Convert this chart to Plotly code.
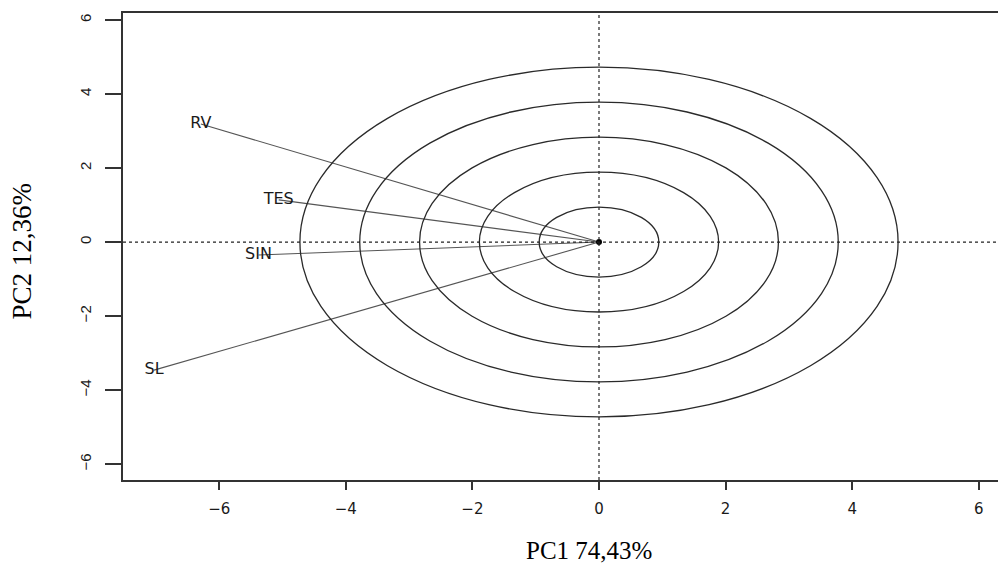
import plotly.graph_objects as go

# Data
var_names = ["RV", "TES", "SIN", "SL"]
pc1 = [-6.29, -5.06, -5.38, -7.03]
pc2 = [3.19, 1.14, -0.35, -3.46]
circle_radii = [0.945, 1.89, 2.835, 3.78, 4.725]
tick_vals = [-6, -4, -2, 0, 2, 4, 6]

fig = go.Figure()

# circles
for r in circle_radii:
    fig.add_shape(type="circle", xref="x", yref="y", x0=-r, x1=r, y0=-r, y1=r,
                  line=dict(color="#2a2a2a", width=1.3))

# dotted reference lines
fig.add_shape(type="line", xref="x", yref="paper", x0=0, x1=0, y0=0, y1=1,
              line=dict(color="#222222", width=1.2, dash="dot"))
fig.add_shape(type="line", xref="paper", yref="y", x0=0, x1=1, y0=0, y1=0,
              line=dict(color="#222222", width=1.2, dash="dot"))

# arrows (lines from origin)
for name, x, y in zip(var_names, pc1, pc2):
    fig.add_trace(go.Scatter(x=[0, x], y=[0, y], mode="lines",
                             line=dict(color="#555555", width=1.1),
                             hoverinfo="skip", showlegend=False))

# origin blob
fig.add_trace(go.Scatter(x=[0], y=[0], mode="markers",
                         marker=dict(color="black", size=6),
                         hoverinfo="skip", showlegend=False))

# labels
fig.add_trace(go.Scatter(x=pc1, y=pc2, mode="text", text=var_names,
                         textposition="middle center",
                         textfont=dict(family="DejaVu Sans", size=16, color="#1a1a1a"),
                         showlegend=False, hoverinfo="skip"))

fig.update_layout(
    width=998, height=557,
    margin=dict(l=115, r=0, t=5, b=85),
    plot_bgcolor="white", paper_bgcolor="white",
    showlegend=False,
    xaxis=dict(range=[-7.52, 6.43], tickvals=tick_vals, ticks="outside", ticklen=8,
               tickwidth=1.5, tickcolor="#333333", showgrid=False, zeroline=False,
               showline=True, linecolor="#333333", linewidth=1.5, mirror=True,
               tickfont=dict(family="DejaVu Sans", size=15, color="#1a1a1a"),
               ticklabelstandoff=6),
    yaxis=dict(range=[-6.43, 6.19], tickvals=tick_vals, ticks="outside", ticklen=16,
               tickwidth=1.5, tickcolor="#333333", showgrid=False, zeroline=False,
               showline=True, linecolor="#333333", linewidth=1.5,
               tickangle=-90,
               tickfont=dict(family="Liberation Sans", size=15, color="#1a1a1a"),
               ticklabelstandoff=8),
    annotations=[
        dict(text="PC1 74,43%", xref="paper", yref="paper", x=0.528, y=-0.150,
             showarrow=False, xanchor="center", yanchor="middle",
             font=dict(family="Liberation Serif", size=25, color="black")),
        dict(text="PC2 12,36%", xref="paper", yref="paper", x=-0.114, y=0.49,
             showarrow=False, xanchor="center", yanchor="middle", textangle=-90,
             font=dict(family="Liberation Serif", size=27, color="black")),
    ],
)

fig.write_html("out.html")
